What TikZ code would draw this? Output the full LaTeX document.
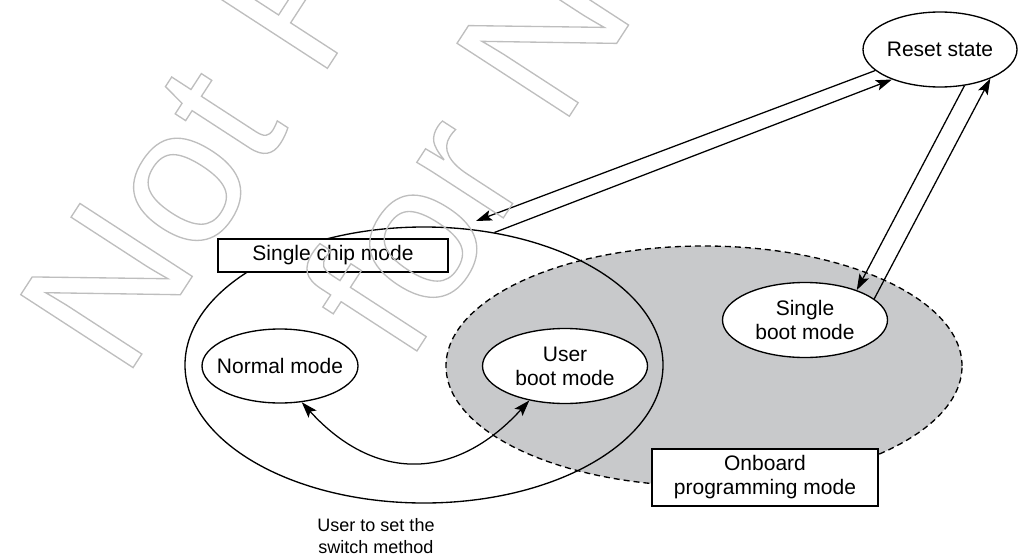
\documentclass[tikz,border=0pt]{standalone}
\usepackage{fontspec}
\setmainfont{Liberation Sans}
\usetikzlibrary{shapes.geometric,arrows.meta}
\definecolor{regiongray}{RGB}{200,201,203}
\definecolor{wmgray}{RGB}{190,190,190}
\newcommand{\outlinetext}[1]{\special{pdf:literal direct 1 Tr 1.0 w}#1\special{pdf:literal direct 0 Tr}}
\begin{document}
\begin{tikzpicture}[x=0.75pt,y=-0.75pt,
  lbl/.style={font=\fontsize{15.75}{18}\selectfont, align=center, inner sep=0pt},
  modeell/.style={ellipse, draw, fill=white, line width=1pt, lbl, inner xsep=-10pt, inner ysep=0pt},
  region/.style={ellipse, inner sep=0pt, line width=1pt},
  titlebox/.style={rectangle, draw, fill=white, line width=1pt, lbl},
  conn/.style={line width=0.95pt, -{Stealth[length=12pt,width=8pt,inset=2.5pt]}},
  dconn/.style={line width=0.95pt, {Stealth[length=12pt,width=8pt,inset=2.5pt]}-{Stealth[length=12pt,width=8pt,inset=2.5pt]}},
  wm/.style={font=\fontsize{146}{160}\selectfont, text=wmgray, inner sep=0pt, anchor=base west, rotate=57}]
\useasboundingbox (0,0) rectangle (1019,556);

% regions
\node[region, draw, dash pattern=on 4.5pt off 3pt, fill=regiongray,
      minimum width=387pt, minimum height=180pt] (onb) at (704,366) {};
\node[region, draw, minimum width=358.5pt, minimum height=207pt] (chip) at (424,365) {};

% modes
\node[modeell, minimum width=117pt, minimum height=55.5pt] (normal) at (280,366) {Normal mode};
\node[modeell, minimum width=123.75pt, minimum height=56.25pt] (uboot) at (565,366) {User\\boot mode};
\node[modeell, minimum width=123.75pt, minimum height=56.25pt] (sboot) at (805,320) {Single\\boot mode};
\node[modeell, minimum width=115.5pt, minimum height=56.25pt] (reset) at (940,49.5) {Reset state};

% titles
\node[titlebox, minimum width=172.5pt, minimum height=24.75pt] (chipbox) at (333,255.5) {Single chip mode};
\node[titlebox, minimum width=169.5pt, minimum height=42.75pt] (onbbox) at (765,477.5) {Onboard\\programming mode};
\node[lbl, font=\fontsize{13.5}{16.5}\selectfont] (switchlbl) at (376,536) {User to set the\\switch method};

% connectors
\coordinate (tipA) at (476,221);
\draw[conn] (reset.198.6) -- (tipA);
\draw[conn] (chip.62.9) -- (reset.212.3);
\draw[conn] (reset.304) -- (sboot.30);
\draw[conn] (sboot.17.3) -- (reset.330);
\draw[dconn] (normal.301.8) .. controls (375,483) and (456,481) .. (uboot.224.2);

% watermark
\node[wm] (wm1) at (124.2,381.2) {\outlinetext{Not Recommended}};
\node[wm] (wm2) at (407.4,365.6) {\outlinetext{for New Designs}};
\end{tikzpicture}
\end{document}
